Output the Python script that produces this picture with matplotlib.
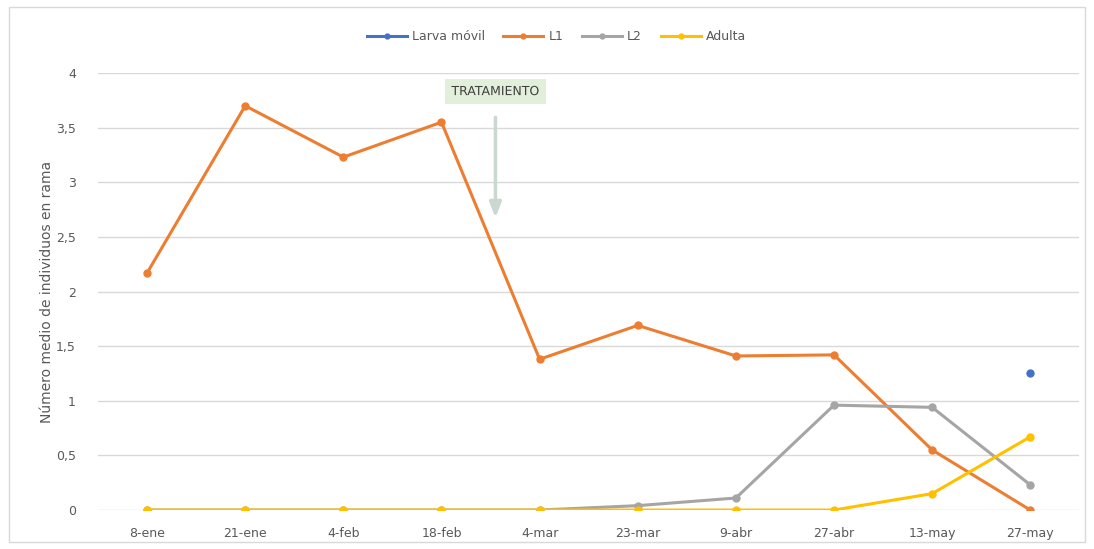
import numpy as np
import matplotlib.pyplot as plt
from matplotlib.patches import Rectangle
import matplotlib.patheffects as pe

# fechas de muestreo
fechas = ['8-ene', '21-ene', '4-feb', '18-feb', '4-mar', '23-mar', '9-abr', '27-abr', '13-may', '27-may']

# numero medio de individuos por rama
larva_movil = [np.nan, np.nan, np.nan, np.nan, np.nan, np.nan, np.nan, np.nan, np.nan, 1.25]
l1 = [2.17, 3.70, 3.23, 3.55, 1.38, 1.69, 1.41, 1.42, 0.55, 0.0]
l2 = [0.0, 0.0, 0.0, 0.0, 0.0, 0.04, 0.11, 0.96, 0.94, 0.23]
adulta = [0.0, 0.0, 0.0, 0.0, 0.0, 0.0, 0.0, 0.0, 0.15, 0.67]

yticks = [0, 0.5, 1, 1.5, 2, 2.5, 3, 3.5, 4]
ytick_labels = ['0', '0,5', '1', '1,5', '2', '2,5', '3', '3,5', '4']

txt_color = '#595959'

fig = plt.figure(figsize=(10.94, 5.49), dpi=100)
ax = fig.add_axes([0.0896, 0.071, 0.897, 0.796])

x = np.arange(len(fechas))
series = [
    ('Larva móvil', larva_movil, '#4472C4'),
    ('L1', l1, '#ED7D31'),
    ('L2', l2, '#A5A5A5'),
    ('Adulta', adulta, '#FFC000'),
]
for name, vals, col in series:
    ax.plot(x, vals, color=col, lw=2.2, marker='o', ms=5, label=name,
            solid_joinstyle='round')

ax.set_xlim(-0.5, len(fechas) - 0.5)
ax.set_ylim(0, 4)
ax.set_xticks(x)
ax.set_xticklabels(fechas, fontsize=9, color=txt_color)
ax.set_yticks(yticks)
ax.set_yticklabels(ytick_labels, fontsize=9, color=txt_color)
ax.tick_params(axis='x', length=0, pad=12)
ax.tick_params(axis='y', length=0, pad=16)
ax.grid(axis='y', color='#D9D9D9', lw=1)
ax.set_axisbelow(True)
for s in ax.spines.values():
    s.set_visible(False)

ax.set_ylabel('Número medio de individuos en rama', fontsize=10, color=txt_color, labelpad=1)

# anotacion del tratamiento
ax.text(3.55, 3.83, 'TRATAMIENTO', ha='center', va='center', fontsize=9, color='#404040',
        bbox=dict(boxstyle='square,pad=0.5', fc='#E2EFDA', ec='none'),
        path_effects=[pe.withStroke(linewidth=1.5, foreground='#E2EFDA')])
ax.annotate('', xy=(3.55, 2.65), xytext=(3.55, 3.62),
            arrowprops=dict(arrowstyle='-|>,head_width=0.35,head_length=0.9',
                            color='#C9D9CF', lw=2.5))

ax.legend(loc='center', bbox_to_anchor=(0.467, 1.083), ncol=4, frameon=False,
          fontsize=9, labelcolor=txt_color, handlelength=3.2, columnspacing=1.5,
          handletextpad=0.4, markerscale=0.7)

# borde del area del grafico
fig.patches.append(Rectangle((0.008, 0.012), 0.984, 0.976, transform=fig.transFigure,
                             fill=False, ec='#D9D9D9', lw=1))

fig.savefig('out.png', dpi=100)
